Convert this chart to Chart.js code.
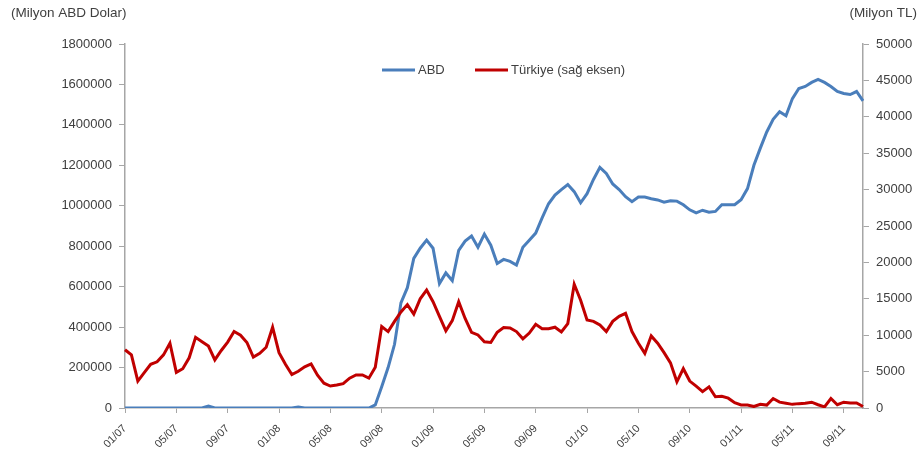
<!DOCTYPE html>
<html>
<head>
<meta charset="utf-8">
<script src="https://cdn.jsdelivr.net/npm/chart.js@4"></script>
<style>
  html, body { margin: 0; padding: 0; background: #ffffff; }
  #wrap { position: relative; width: 923px; height: 453px; }
</style>
</head>
<body>
<div id="wrap"><canvas id="c" width="923" height="453"></canvas></div>
<script>
// ---- DATA ----
// semi-monthly observations, Jan 2007 .. Oct 2011
const startYear = 2007;
const pointCount = 116;
const categories = [];
for (let i = 0; i < pointCount; i++) {
  const m = Math.floor(i / 2);
  const mm = String(m % 12 + 1).padStart(2, '0');
  const yy = String((startYear + Math.floor(m / 12)) % 100).padStart(2, '0');
  categories.push(mm + '/' + yy + (i % 2 ? 'b' : 'a'));
}
const tickLabels = ['01/07','05/07','09/07','01/08','05/08','09/08','01/09','05/09','09/09','01/10','05/10','09/10','01/11','05/11','09/11'];
const tickEvery = 8;

const abd = [
  0,0,0,0,0,0,0,0,0,0,
  0,0,0,10000,0,0,0,0,0,0,
  0,0,0,0,0,0,0,5000,0,0,
  0,0,0,0,0,0,0,0,0,15000,
  105000,200000,315000,520000,595000,740000,790000,830000,790000,615000,
  668000,630000,780000,825000,850000,795000,860000,805000,715000,735000,
  725000,707000,795000,830000,865000,940000,1010000,1053000,1080000,1105000,
  1070000,1015000,1060000,1130000,1190000,1160000,1108000,1080000,1045000,1020000,
  1043000,1043000,1035000,1029000,1018000,1025000,1023000,1005000,980000,965000,
  978000,968000,972000,1005000,1005000,1005000,1030000,1085000,1200000,1285000,
  1365000,1428000,1465000,1445000,1530000,1580000,1590000,1610000,1625000,1610000,
  1590000,1565000,1555000,1550000,1565000,1519000
];
const turkiye = [
  8000,7300,3700,4850,6000,6350,7300,8900,4900,5400,
  6900,9700,9100,8500,6600,7900,9050,10500,10000,9000,
  7000,7500,8350,11100,7600,6000,4600,5050,5650,6050,
  4500,3400,3020,3150,3350,4100,4530,4530,4100,5600,
  11200,10500,11900,13200,14200,12900,15000,16200,14600,12600,
  10600,12000,14600,12300,10400,10030,9100,9000,10400,11050,
  11000,10500,9500,10300,11500,10900,10900,11100,10440,11600,
  17000,14800,12100,11900,11400,10500,11900,12600,13000,10500,
  8900,7500,9900,8900,7600,6200,3600,5400,3700,3000,
  2250,2900,1550,1600,1350,720,420,400,200,500,
  400,1300,800,650,500,600,650,800,450,150,
  1300,450,800,700,700,200
];
const seriesNames = ['ABD', 'Türkiye (sağ eksen)'];
const leftTitle = '(Milyon ABD Dolar)';
const rightTitle = '(Milyon TL)';

// ---- STYLE ----
const BLUE = '#4a7ebb';
const RED = '#c00000';
const AXIS = '#a6a6a6';
const TEXT = '#404040';
const FONT = "'Liberation Sans', Arial, sans-serif";

const overlay = {
  id: 'overlay',
  afterDraw(chart) {
    const ctx = chart.ctx;
    ctx.save();
    ctx.fillStyle = TEXT;
    ctx.font = '13.5px ' + FONT;
    ctx.textBaseline = 'middle';
    ctx.textAlign = 'left';
    ctx.fillText(leftTitle, 11, 13);
    ctx.textAlign = 'right';
    ctx.fillText(rightTitle, 917, 13);
    // legend
    ctx.font = '13px ' + FONT;
    const items = [
      { x: 382, color: BLUE, text: seriesNames[0] },
      { x: 475, color: RED, text: seriesNames[1] }
    ];
    const ly = 70;
    items.forEach(it => {
      ctx.strokeStyle = it.color;
      ctx.lineWidth = 3;
      ctx.beginPath();
      ctx.moveTo(it.x, ly);
      ctx.lineTo(it.x + 33, ly);
      ctx.stroke();
      ctx.fillStyle = TEXT;
      ctx.textAlign = 'left';
      ctx.fillText(it.text, it.x + 36, ly);
    });
    ctx.restore();
  }
};

new Chart(document.getElementById('c'), {
  type: 'line',
  data: {
    labels: categories,
    datasets: [
      { label: seriesNames[0], data: abd, yAxisID: 'yL', borderColor: BLUE, backgroundColor: BLUE,
        borderWidth: 3, pointRadius: 0, tension: 0, order: 2 },
      { label: seriesNames[1], data: turkiye, yAxisID: 'yR', borderColor: RED, backgroundColor: RED,
        borderWidth: 3, pointRadius: 0, tension: 0, order: 1 }
    ]
  },
  options: {
    responsive: false,
    animation: false,
    layout: { padding: { top: 44, left: 0, right: 0, bottom: 0 } },
    plugins: { legend: { display: false }, tooltip: { enabled: false } },
    scales: {
      x: {
        type: 'category',
        offset: false,
        afterFit: s => { s.height = 45; },
        border: { display: true, color: AXIS, width: 1.5 },
        grid: { display: true, drawOnChartArea: false, drawTicks: true, tickLength: 5, color: AXIS },
        ticks: {
          autoSkip: false, maxRotation: 45, minRotation: 45, padding: 9,
          color: TEXT, font: { family: FONT, size: 11 },
          callback: (v, i) => (i % tickEvery === 0 ? tickLabels[i / tickEvery] : null)
        }
      },
      yL: {
        position: 'left', min: 0, max: 1800000,
        afterFit: s => { s.width = 125; },
        border: { display: true, color: AXIS, width: 1.5 },
        grid: { display: true, drawOnChartArea: false, drawTicks: true, tickLength: 6, color: AXIS },
        ticks: { stepSize: 200000, padding: 7, color: TEXT, font: { family: FONT, size: 13 },
                 callback: v => String(v) }
      },
      yR: {
        position: 'right', min: 0, max: 50000,
        afterFit: s => { s.width = 60; },
        border: { display: true, color: AXIS, width: 1.5 },
        grid: { display: true, drawOnChartArea: false, drawTicks: true, tickLength: 6, color: AXIS },
        ticks: { stepSize: 5000, padding: 7, color: TEXT, font: { family: FONT, size: 13 },
                 callback: v => String(v) }
      }
    }
  },
  plugins: [overlay]
});
</script>
</body>
</html>
